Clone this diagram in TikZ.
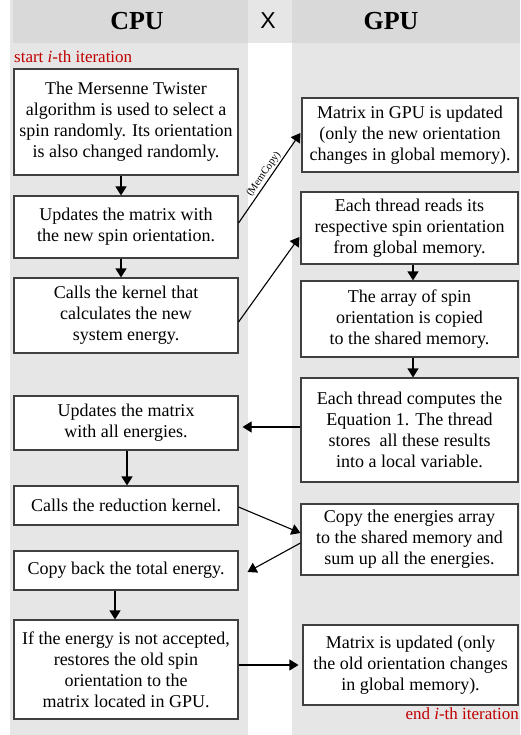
\documentclass[tikz,border=0pt]{standalone}
\usepackage{fontspec}
\setmainfont{Liberation Serif}
\newfontfamily\xsans{Liberation Sans}
\usetikzlibrary{arrows.meta}
\definecolor{hdr}{HTML}{D9D9D9}
\definecolor{col}{HTML}{E6E6E6}
\definecolor{bord}{HTML}{404040}
\definecolor{itred}{HTML}{C00000}
\begin{document}
\begin{tikzpicture}[x=1pt,y=-1pt,
  box/.style={draw=bord, line width=1.1pt, fill=white, align=center, inner sep=0pt, font=\fontsize{18}{21}\selectfont},
  arr/.style={draw=black, line width=1.1pt, -{Triangle[length=9pt,width=11pt]}},
  head/.style={font=\bfseries\fontsize{26}{28}\selectfont},
  iter/.style={text=itred, inner sep=0pt, font=\fontsize{17}{19}\selectfont},
]
\useasboundingbox (0,0) rectangle (520,735);
% backgrounds
\fill[col] (10,0) rectangle (248,735);
\fill[hdr] (13,0) rectangle (248,43);
\fill[col] (248,0) rectangle (292,43);
\fill[col] (292,0) rectangle (520,735);
\fill[hdr] (292,0) rectangle (520,43);
% headers
\node[head] (cpu) at (137,21) {CPU};
\node[font=\xsans\fontsize{23}{25}\selectfont] (x) at (268,21) {X};
\node[head] (gpu) at (391,21) {GPU};
\node[iter, anchor=base west] (start) at (14,63) {start \textit{i}-th iteration};
\node[iter, anchor=base east] (end) at (519,719) {end \textit{i}-th iteration};
% CPU boxes
\node[box, minimum width=224pt, minimum height=106pt] (b1) at (126,122) {The Mersenne Twister\\algorithm is used to select a\\spin randomly. Its orientation\\is also changed randomly.};
\node[box, minimum width=224pt, minimum height=62pt] (b2) at (126,227) {Updates the matrix with\\the new spin orientation.};
\node[box, minimum width=224pt, minimum height=75pt] (b3) at (126,315.5) {Calls the kernel that\\calculates the new\\system energy.};
\node[box, minimum width=224pt, minimum height=54pt] (b4) at (126,423) {Updates the matrix\\with all energies.};
\node[box, minimum width=224pt, minimum height=39pt] (b5) at (126,505.5) {Calls the reduction kernel.};
\node[box, minimum width=224pt, minimum height=39pt] (b6) at (126,570.5) {Copy back the total energy.};
\node[box, minimum width=224pt, minimum height=99pt] (b7) at (126,669.5) {If the energy is not accepted,\\restores the old spin\\orientation to the\\matrix located in GPU.};
% GPU boxes
\node[box, minimum width=216pt, minimum height=74pt] (r1) at (410,135) {Matrix in GPU is updated\\(only the new orientation\\changes in global memory).};
\node[box, minimum width=217pt, minimum height=72pt] (r2) at (409.5,228) {Each thread reads its\\respective spin orientation\\from global memory.};
\node[box, minimum width=217pt, minimum height=76pt] (r3) at (409.5,319) {The array of spin\\orientation is copied\\to the shared memory.};
\node[box, minimum width=217pt, minimum height=104pt] (r4) at (409.5,430) {Each thread computes the\\Equation 1. The thread\\stores~ all these results\\into a local variable.};
\node[box, minimum width=217pt, minimum height=71pt] (r5) at (409.5,539.5) {Copy the energies array\\to the shared memory and\\sum up all the energies.};
\node[box, minimum width=215pt, minimum height=80pt] (r6) at (410.5,665) {Matrix is updated (only\\the old orientation changes\\in global memory).};
% vertical arrows
\coordinate (xa) at (121,0);
\coordinate (xb) at (127,0);
\coordinate (xc) at (115,0);
\coordinate (xr) at (413,0);
\draw[arr] (b1.south -| xa) -- (b2.north -| xa);
\draw[arr] (b2.south -| xa) -- (b3.north -| xa);
\draw[arr] (b4.south -| xb) -- (b5.north -| xb);
\draw[arr] (b6.south -| xc) -- (b7.north -| xc);
\draw[arr] (r2.south -| xr) -- (r3.north -| xr);
\draw[arr] (r3.south -| xr) -- (r4.north -| xr);
% cross arrows
\draw[arr] ([yshift=4pt]b2.east) -- node[midway, sloped, above=1.5pt, inner sep=0pt, font=\fontsize{10.5}{11}\selectfont] {(MemCopy)} ([yshift=2pt,xshift=-1pt]r1.west);
\draw[arr] ([yshift=-6.5pt]b3.east) -- ([yshift=-9pt,xshift=-1pt]r2.west);
\draw[arr] ([yshift=3pt]r4.west) -- ([yshift=-4pt,xshift=4pt]b4.east);
\draw[arr] ([yshift=-1.5pt]b5.east) -- ([yshift=6.5pt]r5.west);
\draw[arr] ([yshift=-3.5pt]r5.west) -- ([yshift=-1.5pt,xshift=9pt]b6.east);
\draw[arr] ([yshift=4.5pt]b7.east) -- ([xshift=-4pt]r6.west);
\end{tikzpicture}
\end{document}
